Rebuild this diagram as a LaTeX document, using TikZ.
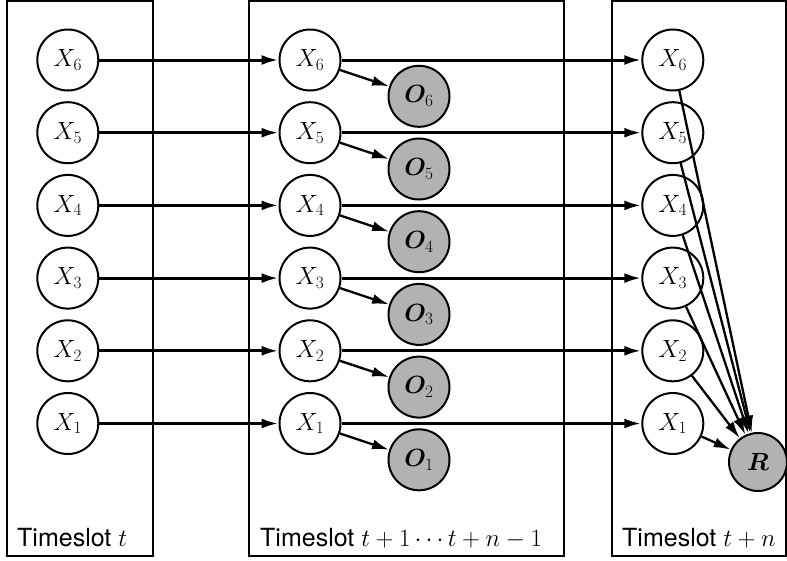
\documentclass[tikz,border=0pt]{standalone}
\usepackage{fontspec}
\setsansfont{TeX Gyre Heros}
\usepackage{bm}
\usetikzlibrary{arrows.meta}

\begin{document}
\begin{tikzpicture}[x=1pt,y=-1pt,
  var/.style={circle,draw,line width=2pt,fill=white,inner sep=0pt,
    minimum size=61pt,font=\fontsize{26}{30}\selectfont},
  obs/.style={var,fill=black!30},
  slotbox/.style={draw,line width=1.7pt},
  slotlabel/.style={anchor=base west,inner sep=0pt,
    font=\fontsize{25}{29}\selectfont},
  edge/.style={line width=3pt,-{Latex[length=17pt,width=10pt]}},
  link/.style={line width=2.3pt,-{Latex[length=17pt,width=10pt]}}]

\useasboundingbox (0,0) rectangle (787,560);

% time-slot frames
\draw[slotbox] (7.3,0.8) rectangle (152.7,555.7);
\draw[slotbox] (249.3,0.8) rectangle (564,555.7);
\draw[slotbox] (612.3,0.8) rectangle (786,555.7);

\node[slotlabel] (lt) at (17,546) {\sffamily Timeslot $t$};
\node[slotlabel] (lm) at (260,546) {\sffamily Timeslot $t+1\cdots t+n-1$};
\node[slotlabel] (lr) at (622,546) {\sffamily Timeslot $t+n$};

% state variables in each slot, observations in the middle slot
\foreach \i in {1,...,6} {
  \pgfmathsetmacro{\yy}{423.5-72.7*(\i-1)}
  \node[var] (a\i) at (67.8,\yy) {$X_{\i}$};
  \node[var] (b\i) at (310,\yy) {$X_{\i}$};
  \node[obs] (o\i) at (419,\yy+36.3) {$\bm{O}_{\i}$};
  \node[var] (c\i) at (672.8,\yy) {$X_{\i}$};
}

% reward
\node[obs,minimum size=58pt] (r) at (758,462) {$\bm{R}$};

% transitions and emissions
\foreach \i in {1,...,6} {
  \draw[edge] (a\i) -- (b\i);
  \draw[edge] (b\i) -- (c\i);
  \draw[link] (b\i) -- (o\i);
  \draw[link] (c\i) -- (r);
}
\end{tikzpicture}
\end{document}
